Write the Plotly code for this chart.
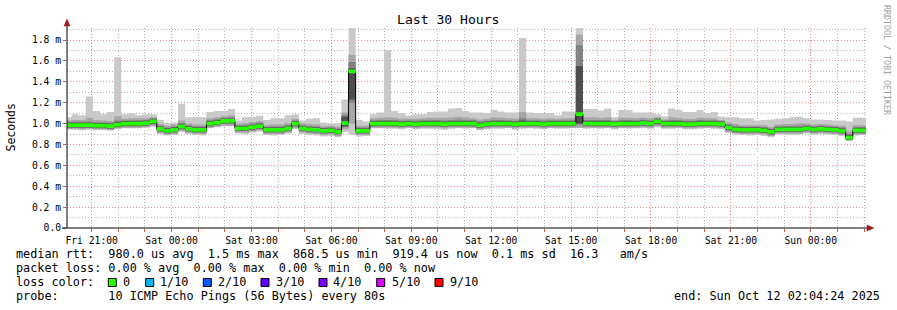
import plotly.graph_objects as go
import pandas as pd
import numpy as np

# ---------------- data ----------------
END = pd.Timestamp("2025-10-12 02:04:24")
START = END - pd.Timedelta(hours=30)
BIN0 = pd.Timestamp("2025-10-10 19:58:40")
STEP = pd.Timedelta(minutes=16)

# median rtt per 16-minute bin (ms)
median = [
    0.985, 0.985, 0.985, 0.985, 0.98, 0.98, 0.975, 0.99, 1.0, 1.0,
    1.0, 1.005, 1.02, 0.95, 0.93, 0.94, 0.97, 0.95, 0.94, 0.94,
    1.0, 1.01, 1.025, 1.025, 0.955, 0.955, 0.965, 0.975, 0.94, 0.94,
    0.94, 0.955, 1.0, 0.955, 0.945, 0.94, 0.93, 0.935, 0.92, 1.005,
    1.5, 0.93, 0.93, 1.0, 1.0, 1.0, 1.0, 0.995, 1.0, 0.995,
    1.0, 1.0, 1.0, 0.995, 1.0, 1.0, 1.0, 1.0, 0.985, 0.995,
    1.0, 1.0, 1.0, 0.995, 1.0, 1.0, 1.0, 0.995, 1.0, 1.0,
    1.0, 1.0, 1.09, 1.0, 1.0, 1.0, 1.0, 0.995, 1.0, 1.0,
    1.0, 1.005, 1.0, 1.02, 1.0, 1.0, 1.0, 0.995, 0.995, 1.0,
    1.0, 1.0, 0.995, 0.96, 0.945, 0.94, 0.94, 0.94, 0.935, 0.92,
    0.945, 0.945, 0.945, 0.945, 0.955, 0.945, 0.95, 0.945, 0.94, 0.93,
    0.865, 0.935, 0.935,
]

# slowest ping per bin (ms)
ping_max = [
    1.06, 1.09, 1.08, 1.26, 1.12, 1.09, 1.11, 1.635, 1.09, 1.10,
    1.08, 1.09, 1.09, 1.035, 1.005, 1.01, 1.19, 1.06, 1.065, 1.06,
    1.11, 1.12, 1.12, 1.14, 1.03, 1.06, 1.065, 1.075, 1.035, 1.05,
    1.05, 1.08, 1.09, 1.03, 1.045, 1.05, 1.01, 1.0, 1.0, 1.23,
    1.92, 1.035, 1.02, 1.09, 1.105, 1.705, 1.12, 1.10, 1.075, 1.09,
    1.09, 1.11, 1.115, 1.115, 1.145, 1.15, 1.12, 1.105, 1.105, 1.10,
    1.13, 1.115, 1.105, 1.105, 1.82, 1.105, 1.10, 1.10, 1.10, 1.08,
    1.115, 1.115, 1.92, 1.14, 1.14, 1.125, 1.145, 1.06, 1.13, 1.13,
    1.105, 1.105, 1.105, 1.09, 1.067, 1.145, 1.13, 1.11, 1.11, 1.13,
    1.10, 1.11, 1.067, 1.06, 1.06, 1.05, 1.05, 1.03, 1.035, 1.04,
    1.045, 1.05, 1.06, 1.065, 1.05, 1.04, 1.04, 1.035, 1.03, 1.03,
    1.02, 1.055, 1.055,
]

# fastest ping per bin (ms)
ping_min = [
    0.94, 0.94, 0.935, 0.94, 0.935, 0.935, 0.93, 0.945, 0.955, 0.955,
    0.955, 0.96, 0.97, 0.9, 0.885, 0.89, 0.92, 0.9, 0.89, 0.885,
    0.955, 0.965, 0.975, 0.975, 0.905, 0.9, 0.915, 0.925, 0.89, 0.885,
    0.89, 0.905, 0.95, 0.9, 0.89, 0.885, 0.875, 0.88, 0.87, 0.92,
    0.89, 0.875, 0.88, 0.955, 0.955, 0.95, 0.95, 0.945, 0.955, 0.945,
    0.95, 0.95, 0.945, 0.94, 0.95, 0.955, 0.95, 0.955, 0.935, 0.945,
    0.95, 0.95, 0.955, 0.94, 0.95, 0.955, 0.95, 0.945, 0.955, 0.95,
    0.95, 0.955, 0.96, 0.95, 0.955, 0.95, 0.955, 0.945, 0.955, 0.95,
    0.955, 0.955, 0.95, 0.965, 0.95, 0.95, 0.955, 0.945, 0.945, 0.95,
    0.955, 0.95, 0.945, 0.91, 0.895, 0.89, 0.885, 0.89, 0.88, 0.87,
    0.895, 0.895, 0.89, 0.895, 0.905, 0.895, 0.9, 0.895, 0.89, 0.88,
    0.835, 0.885, 0.89,
]

# inner smoke: spread of the 2nd/9th, 3rd/8th and 4th/7th pings around the median (ms)
up2 = [
    0.045, 0.05, 0.05, 0.07, 0.055, 0.05, 0.05, 0.08, 0.045, 0.05,
    0.05, 0.045, 0.04, 0.045, 0.05, 0.05, 0.06, 0.05, 0.05, 0.05,
    0.05, 0.05, 0.045, 0.055, 0.045, 0.05, 0.05, 0.05, 0.045, 0.05,
    0.05, 0.05, 0.045, 0.045, 0.05, 0.05, 0.045, 0.045, 0.05, 0.10,
    0.16, 0.05, 0.05, 0.05, 0.055, 0.06, 0.055, 0.05, 0.045, 0.05,
    0.05, 0.055, 0.055, 0.06, 0.06, 0.065, 0.06, 0.05, 0.055, 0.05,
    0.06, 0.055, 0.05, 0.05, 0.11, 0.05, 0.05, 0.05, 0.05, 0.045,
    0.05, 0.05, 0.76, 0.06, 0.06, 0.055, 0.06, 0.04, 0.055, 0.055,
    0.05, 0.05, 0.05, 0.04, 0.04, 0.06, 0.055, 0.05, 0.05, 0.055,
    0.05, 0.05, 0.04, 0.05, 0.05, 0.045, 0.045, 0.045, 0.05, 0.05,
    0.045, 0.05, 0.05, 0.055, 0.045, 0.045, 0.045, 0.045, 0.045, 0.05,
    0.06, 0.05, 0.05,
]
dn2 = [
    0.035, 0.035, 0.04, 0.035, 0.035, 0.035, 0.035, 0.035, 0.04, 0.04,
    0.04, 0.04, 0.04, 0.04, 0.035, 0.04, 0.04, 0.04, 0.04, 0.04,
    0.04, 0.04, 0.045, 0.045, 0.04, 0.04, 0.04, 0.04, 0.04, 0.04,
    0.04, 0.04, 0.045, 0.04, 0.04, 0.04, 0.04, 0.04, 0.04, 0.06,
    0.50, 0.04, 0.04, 0.04, 0.04, 0.04, 0.04, 0.04, 0.04, 0.04,
    0.04, 0.04, 0.04, 0.04, 0.04, 0.04, 0.04, 0.04, 0.04, 0.04,
    0.04, 0.04, 0.04, 0.04, 0.04, 0.04, 0.04, 0.04, 0.04, 0.04,
    0.04, 0.04, 0.13, 0.04, 0.04, 0.04, 0.04, 0.04, 0.04, 0.04,
    0.04, 0.04, 0.04, 0.045, 0.04, 0.04, 0.04, 0.04, 0.04, 0.04,
    0.04, 0.04, 0.04, 0.04, 0.04, 0.04, 0.04, 0.04, 0.04, 0.04,
    0.04, 0.04, 0.04, 0.04, 0.04, 0.04, 0.04, 0.04, 0.04, 0.04,
    0.025, 0.04, 0.04,
]
up3 = [
    0.03, 0.032, 0.032, 0.035, 0.032, 0.03, 0.032, 0.04, 0.03, 0.032,
    0.032, 0.03, 0.03, 0.03, 0.032, 0.032, 0.035, 0.032, 0.032, 0.032,
    0.032, 0.032, 0.03, 0.035, 0.03, 0.032, 0.032, 0.032, 0.03, 0.032,
    0.032, 0.032, 0.03, 0.03, 0.032, 0.032, 0.03, 0.03, 0.032, 0.08,
    0.09, 0.032, 0.032, 0.032, 0.035, 0.035, 0.035, 0.032, 0.03, 0.032,
    0.032, 0.035, 0.035, 0.035, 0.035, 0.04, 0.035, 0.032, 0.035, 0.032,
    0.035, 0.035, 0.032, 0.032, 0.05, 0.032, 0.032, 0.032, 0.032, 0.03,
    0.032, 0.032, 0.66, 0.035, 0.035, 0.035, 0.035, 0.03, 0.035, 0.035,
    0.032, 0.032, 0.032, 0.03, 0.03, 0.035, 0.035, 0.032, 0.032, 0.035,
    0.032, 0.032, 0.03, 0.032, 0.032, 0.03, 0.03, 0.03, 0.032, 0.032,
    0.03, 0.032, 0.032, 0.035, 0.03, 0.03, 0.03, 0.03, 0.03, 0.032,
    0.035, 0.032, 0.032,
]
dn3 = [
    0.028, 0.028, 0.028, 0.028, 0.028, 0.028, 0.028, 0.028, 0.028, 0.028,
    0.028, 0.028, 0.028, 0.028, 0.028, 0.028, 0.028, 0.028, 0.028, 0.028,
    0.028, 0.028, 0.03, 0.03, 0.028, 0.028, 0.028, 0.028, 0.028, 0.028,
    0.028, 0.028, 0.03, 0.028, 0.028, 0.028, 0.028, 0.028, 0.028, 0.04,
    0.30, 0.028, 0.028, 0.028, 0.028, 0.028, 0.028, 0.028, 0.028, 0.028,
    0.028, 0.028, 0.028, 0.028, 0.028, 0.028, 0.028, 0.028, 0.028, 0.028,
    0.028, 0.028, 0.028, 0.028, 0.028, 0.028, 0.028, 0.028, 0.028, 0.028,
    0.028, 0.028, 0.10, 0.028, 0.028, 0.028, 0.028, 0.028, 0.028, 0.028,
    0.028, 0.028, 0.028, 0.03, 0.028, 0.028, 0.028, 0.028, 0.028, 0.028,
    0.028, 0.028, 0.028, 0.028, 0.028, 0.028, 0.028, 0.028, 0.028, 0.028,
    0.028, 0.028, 0.028, 0.028, 0.028, 0.028, 0.028, 0.028, 0.028, 0.028,
    0.02, 0.028, 0.028,
]
up4 = [
    0.022, 0.022, 0.022, 0.022, 0.022, 0.022, 0.022, 0.025, 0.022, 0.022,
    0.022, 0.022, 0.022, 0.022, 0.022, 0.022, 0.022, 0.022, 0.022, 0.022,
    0.022, 0.022, 0.022, 0.022, 0.022, 0.022, 0.022, 0.022, 0.022, 0.022,
    0.022, 0.022, 0.022, 0.022, 0.022, 0.022, 0.022, 0.022, 0.022, 0.06,
    0.03, 0.022, 0.022, 0.022, 0.022, 0.022, 0.022, 0.022, 0.022, 0.022,
    0.022, 0.022, 0.022, 0.022, 0.022, 0.022, 0.022, 0.022, 0.022, 0.022,
    0.022, 0.022, 0.022, 0.022, 0.03, 0.022, 0.022, 0.022, 0.022, 0.022,
    0.022, 0.022, 0.46, 0.022, 0.022, 0.022, 0.022, 0.022, 0.022, 0.022,
    0.022, 0.022, 0.022, 0.022, 0.022, 0.022, 0.022, 0.022, 0.022, 0.022,
    0.022, 0.022, 0.022, 0.022, 0.022, 0.022, 0.022, 0.022, 0.022, 0.022,
    0.022, 0.022, 0.022, 0.022, 0.022, 0.022, 0.022, 0.022, 0.022, 0.022,
    0.022, 0.022, 0.022,
]
dn4 = [
    0.02, 0.02, 0.02, 0.02, 0.02, 0.02, 0.02, 0.02, 0.02, 0.02,
    0.02, 0.02, 0.02, 0.02, 0.02, 0.02, 0.02, 0.02, 0.02, 0.02,
    0.02, 0.02, 0.02, 0.02, 0.02, 0.02, 0.02, 0.02, 0.02, 0.02,
    0.02, 0.02, 0.02, 0.02, 0.02, 0.02, 0.02, 0.02, 0.02, 0.03,
    0.27, 0.02, 0.02, 0.02, 0.02, 0.02, 0.02, 0.02, 0.02, 0.02,
    0.02, 0.02, 0.02, 0.02, 0.02, 0.02, 0.02, 0.02, 0.02, 0.02,
    0.02, 0.02, 0.02, 0.02, 0.02, 0.02, 0.02, 0.02, 0.02, 0.02,
    0.02, 0.02, 0.09, 0.02, 0.02, 0.02, 0.02, 0.02, 0.02, 0.02,
    0.02, 0.02, 0.02, 0.02, 0.02, 0.02, 0.02, 0.02, 0.02, 0.02,
    0.02, 0.02, 0.02, 0.02, 0.02, 0.02, 0.02, 0.02, 0.02, 0.02,
    0.02, 0.02, 0.02, 0.02, 0.02, 0.02, 0.02, 0.02, 0.02, 0.02,
    0.02, 0.02, 0.02,
]

y_tick_vals = [0.0, 0.2, 0.4, 0.6, 0.8, 1.0, 1.2, 1.4, 1.6, 1.8]
y_tick_text = ["0.0", "0.2 m", "0.4 m", "0.6 m", "0.8 m", "1.0 m", "1.2 m", "1.4 m", "1.6 m", "1.8 m"]

loss_labels = ["0", "1/10", "2/10", "3/10", "4/10", "5/10", "9/10"]
loss_colors = ["#26ff00", "#00b8ff", "#0059ff", "#5e00ff", "#7e00ff", "#dd00ff", "#ff0000"]

legend_rtt = "median rtt:  980.0 us avg  1.5 ms max  868.5 us min  919.4 us now  0.1 ms sd  16.3   am/s"
legend_loss = "packet loss: 0.00 % avg  0.00 % max  0.00 % min  0.00 % now"
legend_probe = "probe:       10 ICMP Echo Pings (56 Bytes) every 80s"
legend_end = "end: Sun Oct 12 02:04:24 2025"

# ---------------- build ----------------
n = len(median)
edges = [BIN0 + i * STEP for i in range(n + 1)]
med = np.array(median)
pmax = np.array(ping_max)
pmin = np.array(ping_min)


def stepped(v):
    v = list(v)
    return v + [v[-1]]


hi2 = np.minimum(med + np.array(up2), pmax)
lo2 = np.maximum(med - np.array(dn2), pmin)
hi3 = np.minimum(med + np.array(up3), hi2)
lo3 = np.maximum(med - np.array(dn3), lo2)
hi4 = np.minimum(med + np.array(up4), hi3)
lo4 = np.maximum(med - np.array(dn4), lo3)

fig = go.Figure()

bands = [
    (pmin, pmax, "#c9c9c9"),
    (lo2, hi2, "#a6a6a6"),
    (lo3, hi3, "#828282"),
    (lo4, hi4, "#4e4e4e"),
]
for lo, hi, col in bands:
    fig.add_trace(go.Scatter(x=edges, y=stepped(lo), mode="lines", line=dict(width=0, shape="hv"),
                             hoverinfo="skip", showlegend=False))
    fig.add_trace(go.Scatter(x=edges, y=stepped(hi), mode="lines", line=dict(width=0, shape="hv"),
                             fill="tonexty", fillcolor=col, hoverinfo="skip", showlegend=False))

# black median line (visible at the steps)
fig.add_trace(go.Scatter(x=edges, y=stepped(med), mode="lines", line=dict(width=1, color="#000000", shape="hv"),
                         hoverinfo="skip", showlegend=False))
# green loss-colored median band
half = 0.018
fig.add_trace(go.Scatter(x=edges, y=stepped(med - half), mode="lines", line=dict(width=0, shape="hv"),
                         hoverinfo="skip", showlegend=False))
fig.add_trace(go.Scatter(x=edges, y=stepped(med + half), mode="lines", line=dict(width=0, shape="hv"),
                         fill="tonexty", fillcolor=loss_colors[0], hoverinfo="skip", showlegend=False))

# ---------------- layout ----------------
W, H = 897, 310
ML, MR, MT, MB = 67, 31, 28, 82
PW, PH = W - ML - MR, H - MT - MB
Y_TOP = 1.915


def px(x):
    return (x - ML) / PW


def py(y):
    return (H - MB - y) / PH


MONO = "DejaVu Sans Mono"
RED_GRID = "#f28a8a"
GRAY_GRID = "#b4b4b4"
TICK_RED = "#d05050"

fig.update_layout(
    width=W, height=H,
    margin=dict(l=ML, r=MR, t=MT, b=MB, pad=0),
    paper_bgcolor="white", plot_bgcolor="white",
    showlegend=False,
    xaxis=dict(
        type="date", range=[START, END],
        tick0="2025-10-10 00:00:00", dtick=3 * 3600 * 1000,
        tickformat="%a %H:%M",
        tickfont=dict(family=MONO, size=9.7, color="#000"),
        showgrid=True, gridcolor=RED_GRID, griddash="1px,2px", gridwidth=1,
        ticks="outside", ticklen=3, tickcolor=TICK_RED,
        minor=dict(tick0="2025-10-10 00:00:00", dtick=3600 * 1000, showgrid=True,
                   gridcolor=GRAY_GRID, griddash="1px,2px", ticks="outside", ticklen=3,
                   tickcolor=TICK_RED),
        showline=False, zeroline=False, fixedrange=True,
    ),
    yaxis=dict(
        range=[0, Y_TOP],
        tickmode="array", tickvals=y_tick_vals, ticktext=y_tick_text,
        tickfont=dict(family=MONO, size=9.7, color="#000"),
        showgrid=True, gridcolor=RED_GRID, griddash="1px,2px", gridwidth=1,
        ticks="outside", ticklen=3, tickcolor=TICK_RED,
        minor=dict(tickmode="linear", tick0=0, dtick=0.1, showgrid=True, gridcolor=GRAY_GRID,
                   griddash="1px,2px"),
        showline=False, zeroline=False, fixedrange=True,
    ),
)

shapes = []
# axes lines
shapes.append(dict(type="line", xref="paper", yref="paper", x0=px(62), x1=px(868), y0=py(228), y1=py(228),
                   line=dict(color="#000", width=1)))
shapes.append(dict(type="line", xref="paper", yref="paper", x0=px(67), x1=px(67), y0=py(228), y1=py(25),
                   line=dict(color="#000", width=1)))
# arrow heads
shapes.append(dict(type="path", xref="paper", yref="paper",
                   path=f"M {px(867)},{py(225)} L {px(874)},{py(228)} L {px(867)},{py(231)} Z",
                   fillcolor="#a01818", line=dict(color="#a01818", width=0.5)))
shapes.append(dict(type="path", xref="paper", yref="paper",
                   path=f"M {px(64)},{py(26)} L {px(67)},{py(19)} L {px(70)},{py(26)} Z",
                   fillcolor="#a01818", line=dict(color="#a01818", width=0.5)))

annotations = []


def text(x, y, s, size=11.8, anchor="left", color="#000", angle=0, yanchor="middle"):
    annotations.append(dict(xref="paper", yref="paper", x=px(x), y=py(y), text=s.replace(" ", "\u00a0"),
                            showarrow=False, xanchor=anchor, yanchor=yanchor, textangle=angle,
                            font=dict(family=MONO, size=size, color=color), borderpad=0))


text(448, 19.5, "Last 30 Hours", size=13.1, anchor="center")
text(10.5, 127, "Seconds", size=11.5, anchor="center", angle=-90)
text(887, 60, "RRDTOOL / TOBI OETIKER", size=8.3, anchor="center", angle=90, color="#a0a0a0")

text(15, 254.3, legend_rtt)
text(15, 268.3, legend_loss)
text(15, 282.3, "loss color:")
text(15, 296, legend_probe)
text(881, 296, legend_end, anchor="right")

sq_x = [108.3, 145.7, 203.3, 261.0, 319.0, 376.7, 435.0]
lab_x = [123.3, 160.0, 218.3, 276.0, 333.3, 391.7, 450.0]
for lab, col, sx, lx in zip(loss_labels, loss_colors, sq_x, lab_x):
    shapes.append(dict(type="rect", xref="paper", yref="paper", x0=px(sx), x1=px(sx + 8),
                       y0=py(286.5), y1=py(278.5), fillcolor=col, line=dict(color="#000", width=1)))
    text(lx - 1, 282.3, lab)

fig.update_layout(shapes=shapes, annotations=annotations)

fig.write_html("out.html")
